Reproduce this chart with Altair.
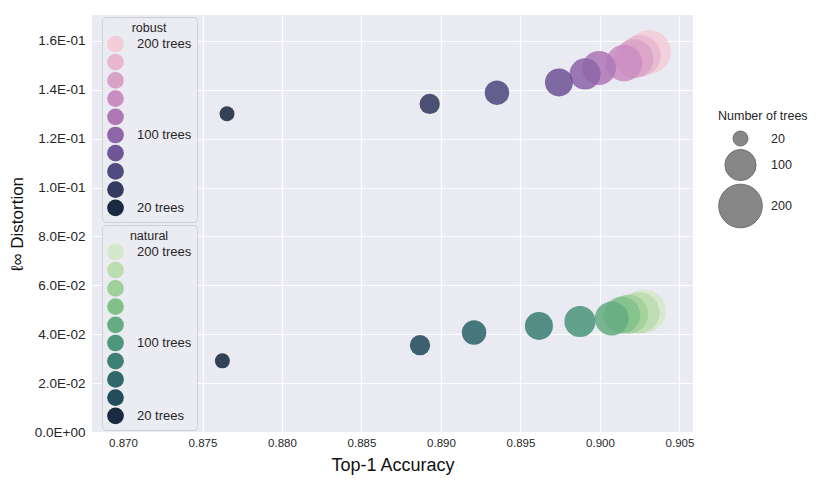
import altair as alt
import pandas as pd

trees = [20, 40, 60, 80, 100, 120, 140, 160, 180, 200]

robust_acc = [0.87654, 0.88929, 0.89352, 0.89742, 0.89906, 0.89994, 0.90151, 0.90214, 0.90252, 0.90308]
robust_dist = [0.1302, 0.1342, 0.1388, 0.1430, 0.1465, 0.1489, 0.1509, 0.1527, 0.1539, 0.1555]

natural_acc = [0.87625, 0.88868, 0.89208, 0.89616, 0.89874, 0.90074, 0.90138, 0.90180, 0.90245, 0.90277]
natural_dist = [0.0291, 0.0355, 0.0407, 0.0434, 0.0452, 0.0464, 0.0478, 0.0482, 0.0488, 0.0494]

# colours from 20 trees (dark) to 200 trees (light)
robust_colors = ['#1a2a40', '#343a60', '#504a80', '#6e5697', '#8e66a8',
                 '#ae78b6', '#c98ec0', '#d9a3c7', '#e7b7cf', '#f2ccd8']
natural_colors = ['#1a2a40', '#244d5c', '#2f676b', '#3e7f76', '#4e967c',
                  '#66ac82', '#82c08b', '#9fcf9a', '#bcdcb1', '#d5e8c9']

x_ticks = [0.870, 0.875, 0.880, 0.885, 0.890, 0.895, 0.900, 0.905]
y_ticks = [0.0, 0.02, 0.04, 0.06, 0.08, 0.10, 0.12, 0.14, 0.16]
size_legend_values = [20, 100, 200]

rob = pd.DataFrame({'trees': trees, 'acc': robust_acc, 'dist': robust_dist})
nat = pd.DataFrame({'trees': trees, 'acc': natural_acc, 'dist': natural_dist})

FONT = 'Liberation Sans'

x_enc = alt.X('acc:Q',
              scale=alt.Scale(domain=[0.86805, 0.90585], nice=False, zero=False),
              axis=alt.Axis(values=x_ticks, format='.3f', title='Top-1 Accuracy',
                            labelFontSize=11.5, titleFontSize=18, labelPadding=5,
                            titlePadding=8))
y_label_expr = ("datum.value == 0 ? '0.0E+00' : (datum.value >= 0.0999 ? "
                "format(datum.value*10, '.1f') + 'E-01' : format(datum.value*100, '.1f') + 'E-02')")
y_enc = alt.Y('dist:Q',
              scale=alt.Scale(domain=[0, 0.1706], nice=False),
              axis=alt.Axis(values=y_ticks, labelExpr=y_label_expr, title='ℓ∞ Distortion',
                            labelFontSize=13.5, titleFontSize=17, labelPadding=7,
                            titlePadding=8))
size_enc = alt.Size('trees:Q',
                    scale=alt.Scale(domain=[20, 200], range=[225, 1900], zero=False),
                    legend=alt.Legend(title='Number of trees', values=size_legend_values,
                                      orient='none', legendX=626, legendY=95,
                                      symbolFillColor='#555555', symbolOpacity=0.7,
                                      symbolStrokeColor='#333333', symbolStrokeWidth=1,
                                      labelFontSize=12.5, titleFontSize=12.5,
                                      titleFontWeight='normal',
                                      rowPadding=-12, labelOffset=8, titlePadding=8))

label_expr = ("(datum.label == '200' || datum.label == '100' || datum.label == '20') "
              "? datum.label + ' trees' : ''")


def color_legend(title, ly):
    return alt.Legend(title=title, orient='none', legendX=10, legendY=ly,
                      labelExpr=label_expr, symbolSize=280, symbolType='circle',
                      symbolOpacity=1, symbolStrokeWidth=0,
                      fillColor='#ebebf2', strokeColor='#cfcfd6', cornerRadius=4,
                      padding=5, titleAnchor='middle', titleFontSize=12.5,
                      titleFontWeight='normal', labelFontSize=13, rowPadding=1.2,
                      labelOffset=13, titlePadding=1)


rob_layer = alt.Chart(rob).mark_circle(opacity=0.88).encode(
    x=x_enc, y=y_enc, size=size_enc,
    color=alt.Color('trees:O',
                    scale=alt.Scale(domain=trees[::-1], range=robust_colors[::-1]),
                    legend=color_legend('robust', 2)),
    order=alt.Order('trees:Q', sort='descending'),
)

nat_layer = alt.Chart(nat).mark_circle(opacity=0.88).encode(
    x=x_enc, y=y_enc, size=size_enc,
    color=alt.Color('trees:O',
                    scale=alt.Scale(domain=trees[::-1], range=natural_colors[::-1]),
                    legend=color_legend('natural', 210)),
    order=alt.Order('trees:Q', sort='descending'),
)

chart = alt.layer(rob_layer, nat_layer).resolve_scale(
    color='independent'
).properties(
    width=601, height=417,
    padding={'left': 0, 'top': 7, 'right': 5, 'bottom': 5},
).configure_view(
    fill='#eaeaf2', stroke=None
).configure_axis(
    domain=False, ticks=False, grid=True, gridColor='#ffffff', gridWidth=1.2,
    labelColor='#262626', titleColor='#111111', labelFont=FONT, titleFont=FONT,
    titleFontWeight='normal'
).configure_legend(
    labelFont=FONT, titleFont=FONT, labelColor='#262626', titleColor='#262626'
)

chart.save('out.html', embed_options={'renderer': 'svg', 'actions': False})
